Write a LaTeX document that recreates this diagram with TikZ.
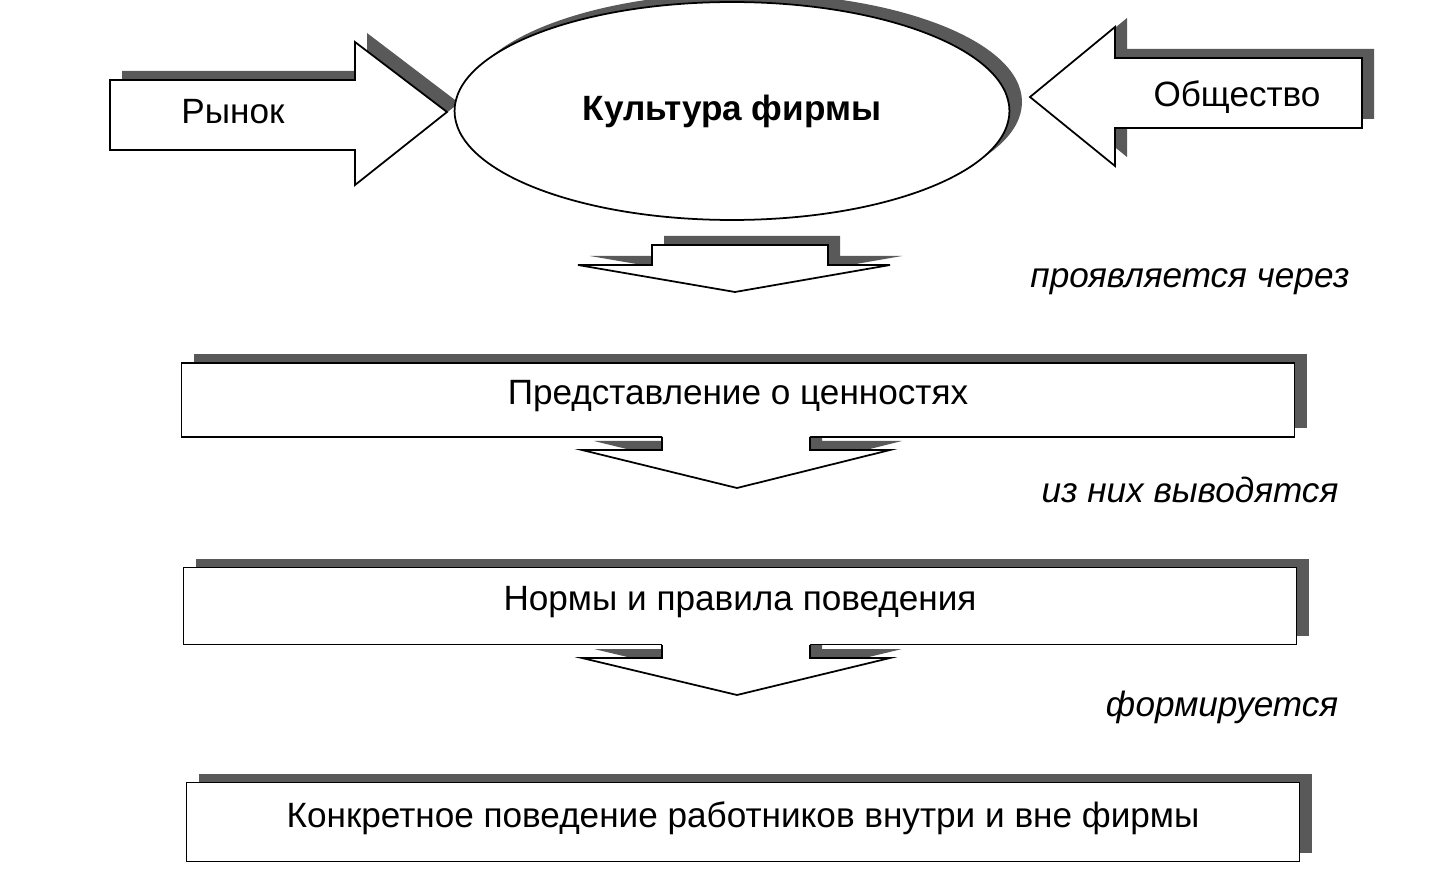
\documentclass[tikz,border=0pt]{standalone}
\usepackage{fontspec}
\setmainfont{Liberation Sans}
\usetikzlibrary{shapes.geometric}

% outlines of the block arrows
\newcommand{\marketpath}{(110,80) -- (355,80) -- (355,42) -- (447,112) -- (355,185) -- (355,150) -- (110,150) -- cycle}
\newcommand{\societypath}{(1362,58) -- (1115,58) -- (1115,27) -- (1030,97) -- (1115,166) -- (1115,128) -- (1362,128) -- cycle}
\newcommand{\downpath}[2]{(662,#1-8) -- (810,#1-8) -- (810,#1+13) -- (890,#1+13) -- (737,#2) -- (582,#1+13) -- (662,#1+13) -- cycle}
\newcommand{\downline}[2]{(662,#1) -- (662,#1+13) -- (582,#1+13) -- (737,#2) -- (890,#1+13) -- (810,#1+13) -- (810,#1)}

\begin{document}
\begin{tikzpicture}[x = 0.02cm, y = -0.02cm, line width = 1pt,
	font = \fontsize{20}{24}\selectfont,
	shade/.style = {fill = black!65, draw = none},
	box/.style = {draw, fill = white, rectangle, inner sep = 0pt, text depth = 0.85em, minimum width = 22.26cm},
	note/.style = {font = \fontsize{20}{24}\selectfont\itshape}]

	\useasboundingbox (0, 0) rectangle (1445, 885);

	% Shadows

	\begin{scope}[shift = {(12, -9)}]

		\fill[shade] \marketpath;
		\fill[shade] \societypath;
		\fill[shade] (732, 111) ellipse (278 and 109);
		\fill[shade] (652, 245) -- (828, 245) -- (828, 265) -- (890, 265) -- (735, 292) -- (578, 265) -- (652, 265) -- cycle;
		\fill[shade] (182, 363) rectangle (1295, 437);
		\fill[shade] \downpath{437}{488};
		\fill[shade] (184, 568) rectangle (1297, 645);
		\fill[shade] \downpath{645}{695};
		\fill[shade] (187, 783) rectangle (1300, 862);

	\end{scope}

	% Top row

	\filldraw[fill = white] \marketpath;
	\filldraw[fill = white] \societypath;
	\node[draw, fill = white, ellipse, minimum width = 11.1cm, minimum height = 4.36cm,
		font = \fontsize{20}{24}\selectfont\bfseries] (culture) at (732, 111) {Культура фирмы};
	\node (market) at (233, 112) {Рынок};
	\node (society) at (1237, 97) {Общество};

	\filldraw[fill = white] (652, 245) -- (828, 245) -- (828, 265) -- (890, 265) -- (735, 292) -- (578, 265) -- (652, 265) -- cycle;

	% Boxes

	\node[box, minimum height = 1.48cm] (values) at (738, 400) {Представление о ценностях};
	\node[box, minimum height = 1.54cm] (norms) at (740, 606) {Нормы и правила поведения};
	\node[box, minimum height = 1.58cm] (conduct) at (743, 822) {Конкретное поведение работников внутри и вне фирмы};

	% Arrows between the boxes

	\fill[white] \downpath{437}{488};
	\draw \downline{437}{488};
	\fill[white] \downpath{645}{695};
	\draw \downline{645}{695};

	% Labels

	\node[note] (through) at (1190, 282) {проявляется через};
	\node[note] (derived) at (1190, 490) {из них выводятся};
	\node[note] (formed) at (1222, 707) {формируется};

\end{tikzpicture}
\end{document}
